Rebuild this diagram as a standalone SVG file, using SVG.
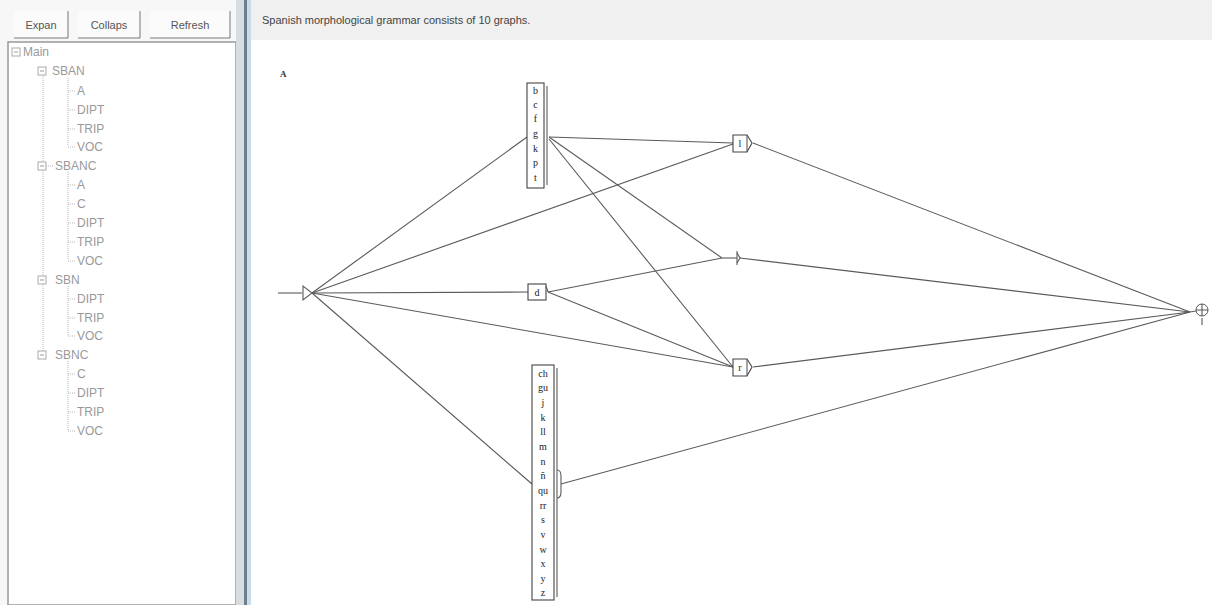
<svg xmlns="http://www.w3.org/2000/svg" width="1212" height="605" viewBox="0 0 1212 605">
<defs>
<style>
.ui{font-family:"Liberation Sans",Arial,sans-serif;font-size:12px;fill:#999}
.btn{font-family:"Liberation Sans",Arial,sans-serif;font-size:11px;fill:#555}
.hdr{font-family:"Liberation Sans",Arial,sans-serif;font-size:11px;fill:#444}
.lbl{font-family:"Liberation Serif","Times New Roman",serif;font-size:10px;fill:#222;text-anchor:middle}
.tl{stroke:#b8b8b8;stroke-width:1;stroke-dasharray:1 1;fill:none}
.box{fill:#fff;stroke:#444;stroke-width:1.1}
.edge{stroke:#5a5a5a;stroke-width:1.1;fill:none}
</style>
</defs>
<rect x="0" y="0" width="1212" height="605" fill="#ffffff"/>
<rect x="0" y="0" width="238" height="605" fill="#f7f7f7"/>
<g id="buttons">
<rect x="14" y="11" width="54" height="28" fill="#fbfbfb"/>
<path d="M14 38 H68 V11" stroke="#777" fill="none"/>
<text class="btn" x="41" y="29" text-anchor="middle">Expan</text>
<rect x="78" y="11" width="62" height="28" fill="#fbfbfb"/>
<path d="M78 38 H140 V11" stroke="#777" fill="none"/>
<text class="btn" x="109" y="29" text-anchor="middle">Collaps</text>
<rect x="150" y="11" width="80" height="28" fill="#fbfbfb"/>
<path d="M150 38 H230 V11" stroke="#777" fill="none"/>
<text class="btn" x="190" y="29" text-anchor="middle">Refresh</text>
</g>
<rect x="8" y="42" width="228" height="563" fill="#ffffff" stroke="#999" stroke-width="1.5"/>
<g id="tree">
<line class="tl" x1="43" y1="76" x2="43" y2="351"/>
<line class="tl" x1="68" y1="78" x2="68" y2="146"/>
<line class="tl" x1="68" y1="172" x2="68" y2="260"/>
<line class="tl" x1="68" y1="286" x2="68" y2="335"/>
<line class="tl" x1="68" y1="361" x2="68" y2="430"/>
<path class="tl" d="M68 91H76M68 110H76M68 129H76M68 147H76M68 185H76M68 204H76M68 223H76M68 242H76M68 261H76M68 299H76M68 318H76M68 336H76M68 374H76M68 393H76M68 412H76M68 431H76M46 166H54"/>
<g fill="#fff" stroke="#aaa"><rect x="12" y="48" width="8" height="8"/><rect x="38" y="67" width="8" height="8"/><rect x="38" y="162" width="8" height="8"/><rect x="38" y="276" width="8" height="8"/><rect x="38" y="351" width="8" height="8"/></g>
<path d="M14 52H18M40 71H44M40 166H44M40 280H44M40 355H44" stroke="#999"/>
<text class="ui" x="23" y="56">Main</text>
<text class="ui" x="52" y="75">SBAN</text>
<text class="ui" x="77" y="95">A</text>
<text class="ui" x="77" y="114">DIPT</text>
<text class="ui" x="77" y="133">TRIP</text>
<text class="ui" x="77" y="151">VOC</text>
<text class="ui" x="55" y="170">SBANC</text>
<text class="ui" x="77" y="189">A</text>
<text class="ui" x="77" y="208">C</text>
<text class="ui" x="77" y="227">DIPT</text>
<text class="ui" x="77" y="246">TRIP</text>
<text class="ui" x="77" y="265">VOC</text>
<text class="ui" x="55" y="284">SBN</text>
<text class="ui" x="77" y="303">DIPT</text>
<text class="ui" x="77" y="322">TRIP</text>
<text class="ui" x="77" y="340">VOC</text>
<text class="ui" x="55" y="359">SBNC</text>
<text class="ui" x="77" y="378">C</text>
<text class="ui" x="77" y="397">DIPT</text>
<text class="ui" x="77" y="416">TRIP</text>
<text class="ui" x="77" y="435">VOC</text>
</g>
<rect x="236" y="0" width="14" height="605" fill="#d8dde2"/>
<rect x="244" y="0" width="3" height="605" fill="#6f7e8c"/>
<rect x="247" y="0" width="4" height="605" fill="#c8dbe8"/>
<rect x="251" y="0" width="961" height="40" fill="#f0f0f0"/>
<text class="hdr" x="262" y="24">Spanish  morphological grammar consists of 10 graphs.</text>
<text x="280" y="77" font-family="Liberation Serif,serif" font-size="9" font-weight="bold" fill="#333">A</text>
<g id="connectors" class="edge">
<line x1="278" y1="293" x2="302" y2="293"/>
<line x1="312" y1="293" x2="527" y2="137"/>
<line x1="312" y1="293" x2="733" y2="144"/>
<line x1="312" y1="293" x2="528" y2="292"/>
<line x1="312" y1="293" x2="733" y2="367"/>
<line x1="312" y1="293" x2="532" y2="484"/>
<line x1="549" y1="137" x2="733" y2="143"/>
<line x1="549" y1="137" x2="722" y2="258"/>
<line x1="549" y1="139" x2="733" y2="367"/>
<line x1="548" y1="292" x2="722" y2="258"/>
<line x1="548" y1="292" x2="733" y2="367"/>
<line x1="722" y1="258" x2="737" y2="258"/>
<line x1="753" y1="143" x2="1190" y2="312"/>
<line x1="740" y1="258" x2="1190" y2="312"/>
<line x1="753" y1="367" x2="1190" y2="312"/>
<line x1="561" y1="484" x2="1190" y2="312"/>
<line x1="1190" y1="312" x2="1196" y2="311"/>
</g>
<g id="initial"><path class="edge" d="M303 286 V300 L312 293 Z" fill="#bbb"/></g>
<g id="n_bcfgkpt">
<rect class="box" x="527" y="83" width="17" height="105"/>
<line class="edge" x1="547" y1="86" x2="547" y2="185"/>
<text class="lbl" x="535.5" y="94">b</text>
<text class="lbl" x="535.5" y="108">c</text>
<text class="lbl" x="535.5" y="122">f</text>
<text class="lbl" x="535.5" y="137">g</text>
<text class="lbl" x="535.5" y="152">k</text>
<text class="lbl" x="535.5" y="166">p</text>
<text class="lbl" x="535.5" y="181">t</text>
</g>
<g id="n_d">
<rect class="box" x="528" y="284" width="18" height="16"/>
<line class="edge" x1="546" y1="286" x2="548" y2="292"/>
<text class="lbl" x="537" y="296">d</text>
</g>
<g id="n_l">
<path class="box" d="M733 135 H747 L752 143 L747 152 H733 Z"/>
<line class="edge" x1="747" y1="135" x2="747" y2="152"/>
<text class="lbl" x="740" y="147">l</text>
</g>
<g id="n_eps">
<line class="edge" x1="737" y1="251" x2="737" y2="265"/>
<path class="edge" d="M737 253 L740 258 L737 263"/>
</g>
<g id="n_r">
<path class="box" d="M733 359 H747 L752 367 L747 376 H733 Z"/>
<line class="edge" x1="747" y1="359" x2="747" y2="376"/>
<text class="lbl" x="740" y="371">r</text>
</g>
<g id="n_big">
<rect class="box" x="532" y="365" width="22" height="235"/>
<line class="edge" x1="557" y1="368" x2="557" y2="597"/>
<path class="edge" d="M557 470 Q561 470 561 476 V492 Q561 498 557 498"/>
<text class="lbl" x="543" y="377">ch</text>
<text class="lbl" x="543" y="391">gu</text>
<text class="lbl" x="543" y="406">j</text>
<text class="lbl" x="543" y="421">k</text>
<text class="lbl" x="543" y="435">ll</text>
<text class="lbl" x="543" y="450">m</text>
<text class="lbl" x="543" y="465">n</text>
<text class="lbl" x="543" y="479">ñ</text>
<text class="lbl" x="543" y="494">qu</text>
<text class="lbl" x="543" y="509">rr</text>
<text class="lbl" x="543" y="523">s</text>
<text class="lbl" x="543" y="538">v</text>
<text class="lbl" x="543" y="553">w</text>
<text class="lbl" x="543" y="567">x</text>
<text class="lbl" x="543" y="582">y</text>
<text class="lbl" x="543" y="596">z</text>
</g>
<g id="final">
<circle cx="1202" cy="310" r="6" fill="#fff" stroke="#555"/>
<path class="edge" d="M1196 310 H1208 M1202 304 V316 M1202 318 V325"/>
</g>
</svg>
